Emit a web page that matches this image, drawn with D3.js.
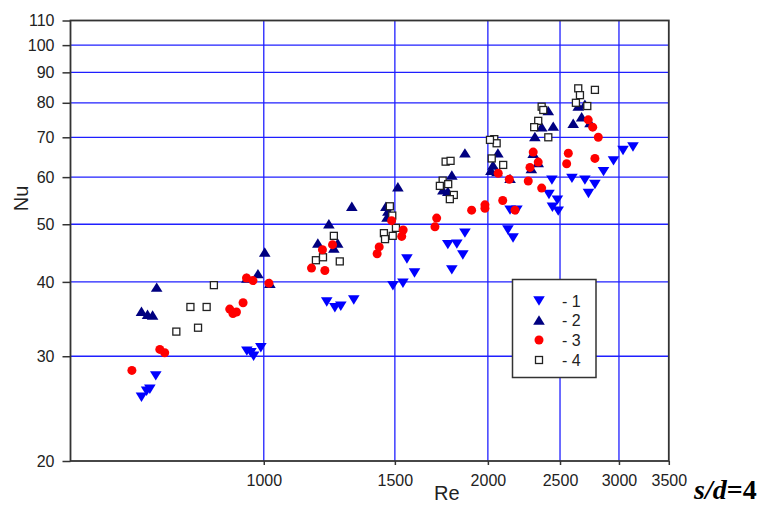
<!DOCTYPE html>
<html><head><meta charset="utf-8">
<script src="https://cdn.jsdelivr.net/npm/d3@7"></script>
<style>html,body{margin:0;padding:0;background:#fff;}</style>
</head><body>
<svg id="c" width="766" height="506"></svg>
<script>
const xTicks = [1000,1500,2000,2500,3000,3500];
const yTicks = [20,30,40,50,60,70,80,90,100,110];
const legendLabels = ["- 1","- 2","- 3","- 4"];

const series1 = [[716,27.8],[703,26.4],[696,26.2],[685,25.6],
 [949,30.6],[969,30.0],[991,31.0],[961,30.4],
 [1215,37.0],[1246,36.2],[1269,36.4],[1321,37.3],
 [1491,39.4],[1538,39.8],[1557,43.7],[1594,41.4],
 [1789,41.9],[1851,44.4],[1767,46.2],[1817,46.3],[1863,48.3],
 [2128,48.9],[2162,47.4],[2142,52.8],[2188,52.8],
 [2438,59.3],[2594,59.7],[2700,59.3],[2785,58.3],[2730,56.3],[2860,61.3],[2950,63.9],[3038,66.5],[3133,67.4],
 [2416,56.1],[2480,54.9],[2442,53.4],[2486,52.6]];
const series2 = [[718,39.2],[685,35.7],[698,35.3],[709,35.2],
 [982,41.3],[1003,44.9],[1019,39.8],[949,40.6],
 [1182,46.5],[1223,50.1],[1257,46.5],[1242,45.6],[1313,53.6],
 [1459,53.6],[1464,51.4],[1514,57.8],[1468,52.6],
 [1863,65.9],[1789,60.5],[1740,57.1],[1767,56.8],
 [2063,65.9],[2032,62.9],[2019,61.6],[2057,61.3],[2142,59.7],
 [2288,62.0],[2313,70.2],[2362,72.9],[2411,77.6],[2448,73.1],[2301,65.8],[2337,63.5],
 [2604,73.9],[2645,79.0],[2700,79.6],[2673,75.8],[2743,74.1]];
const series3 = [[665,28.4],[725,30.8],[736,30.4],
 [900,36.0],[909,35.4],[919,35.6],[938,36.9],
 [948,40.6],[967,40.2],[1016,39.8],
 [1159,42.2],[1208,41.8],[1199,45.3],[1237,46.2],
 [1485,50.7],[1429,45.8],[1420,44.6],[1539,48.9],[1532,47.7],
 [1707,51.2],[1698,49.5],[1902,52.8],[1982,53.9],[1982,53.2],[2094,54.8],[2175,52.8],
 [2065,60.9],[2137,59.5],[2266,59.1],[2301,66.1],[2337,63.6],[2278,62.3],[2362,57.5],
 [2565,65.8],[2552,63.2],[2785,64.5],[2728,74.9],[2766,72.8],[2814,70.0]];
const series4 = [[763,33.0],[797,36.3],[816,33.5],[838,36.3],[857,39.5],
 [1175,43.5],[1201,44.0],[1242,47.8],[1265,43.3],
 [1450,48.3],[1455,47.2],[1490,47.8],[1505,49.3],[1477,53.6],[1488,51.7],
 [1755,63.7],[1782,63.9],[1739,59.2],[1724,58.0],[1769,58.4],[1800,56.0],[1778,55.1],
 [2040,69.5],[2055,68.4],[2013,69.3],[2024,64.5],[2097,62.9],
 [2362,78.8],[2374,77.8],[2337,74.6],[2308,72.8],[2411,70.0],
 [2645,84.6],[2785,84.1],[2659,82.4],[2626,80.0],[2720,79.0]];

const svg = d3.select("#c");
const L = 70.5, R = 668.8, T = 20.5, B = 461;
const x = d3.scaleLog().domain([550, 3500]).range([L, R]);
const y = d3.scaleLog().domain([20, 110]).range([B, T]);
const font = "Liberation Sans, Arial, sans-serif";
const gridColor = "#1f1fff";

// grid
svg.append("g").selectAll("line").data(yTicks.filter(v => v > 20 && v < 110)).join("line")
  .attr("x1", L).attr("x2", R).attr("y1", d => y(d)).attr("y2", d => y(d))
  .attr("stroke", gridColor).attr("stroke-width", 1.3);
svg.append("g").selectAll("line").data(xTicks.filter(v => v < 3500)).join("line")
  .attr("y1", T).attr("y2", B).attr("x1", d => x(d)).attr("x2", d => x(d))
  .attr("stroke", gridColor).attr("stroke-width", 1.3);

// frame
svg.append("rect").attr("x", L).attr("y", T).attr("width", R - L).attr("height", B - T)
  .attr("fill", "none").attr("stroke", "#333").attr("stroke-width", 1.8);

// axes
const yAxis = d3.axisLeft(y).tickValues(yTicks).tickFormat(d3.format("d")).tickSize(8).tickPadding(8);
const gy = svg.append("g").attr("transform", `translate(${L},0)`).call(yAxis);
const xAxis = d3.axisBottom(x).tickValues(xTicks).tickFormat(d3.format("d")).tickSize(4).tickPadding(10);
const gx = svg.append("g").attr("transform", `translate(0,${B})`).call(xAxis);
[gx, gy].forEach(g => {
  g.select(".domain").remove();
  g.selectAll(".tick line").attr("stroke", "#333").attr("stroke-width", 1.5);
  g.selectAll("text").attr("font-family", font).attr("font-size", 16).attr("fill", "#222");
});

// titles
svg.append("text").attr("x", 434).attr("y", 500).attr("font-family", font).attr("font-size", 20)
  .attr("fill", "#222").text("Re");
svg.append("text").attr("transform", "translate(27.5,198.5) rotate(-90)").attr("text-anchor", "middle")
  .attr("font-family", font).attr("font-size", 20).attr("fill", "#222").text("Nu");
const sd = svg.append("text").attr("x", 694).attr("y", 499).attr("font-family", "Liberation Serif, Times New Roman, serif")
  .attr("font-size", 28).attr("font-weight", "bold").attr("fill", "#000");
sd.append("tspan").attr("font-style", "italic").text("s/d");
sd.append("tspan").text("=4");

// markers
const tri = (cx, cy, down) => {
  const w = 5.8, h = 4.7, s = down ? 1 : -1;
  return `M${cx - w},${cy - s * h}L${cx + w},${cy - s * h}L${cx},${cy + s * h}Z`;
};
function drawSeries(data, kind, g) {
  if (kind === 1 || kind === 2) {
    g.selectAll("path").data(data).join("path")
      .attr("d", d => tri(x(d[0]), y(d[1]), kind === 1))
      .attr("fill", kind === 1 ? "#0000ff" : "#000080");
  } else if (kind === 3) {
    g.selectAll("circle").data(data).join("circle")
      .attr("cx", d => x(d[0])).attr("cy", d => y(d[1])).attr("r", 4.5).attr("fill", "#ff0000");
  } else {
    g.selectAll("rect").data(data).join("rect")
      .attr("x", d => x(d[0]) - 3.5).attr("y", d => y(d[1]) - 3.5).attr("width", 7).attr("height", 7)
      .attr("fill", "#fff").attr("stroke", "#222").attr("stroke-width", 1.3);
  }
}
drawSeries(series1, 1, svg.append("g"));
drawSeries(series2, 2, svg.append("g"));
drawSeries(series4, 4, svg.append("g"));
drawSeries(series3, 3, svg.append("g"));

// legend
const lg = svg.append("g");
lg.append("rect").attr("x", 512.5).attr("y", 279.5).attr("width", 83.5).attr("height", 98)
  .attr("fill", "#fff").attr("stroke", "#333").attr("stroke-width", 1.5);
const ly = [301, 320, 340, 360];
legendLabels.forEach((t, i) => {
  const g = lg.append("g");
  const cy = ly[i], cx = 539;
  if (i === 0) g.append("path").attr("d", tri(cx, cy, true)).attr("fill", "#0000ff");
  if (i === 1) g.append("path").attr("d", tri(cx, cy, false)).attr("fill", "#000080");
  if (i === 2) g.append("circle").attr("cx", cx).attr("cy", cy).attr("r", 4.5).attr("fill", "#ff0000");
  if (i === 3) g.append("rect").attr("x", cx - 3.5).attr("y", cy - 3.5).attr("width", 7).attr("height", 7)
    .attr("fill", "#fff").attr("stroke", "#222").attr("stroke-width", 1.3);
  g.append("text").attr("x", 562).attr("y", cy + 5.5).attr("font-family", font).attr("font-size", 16)
    .attr("fill", "#222").text(t);
});
</script>
</body></html>
